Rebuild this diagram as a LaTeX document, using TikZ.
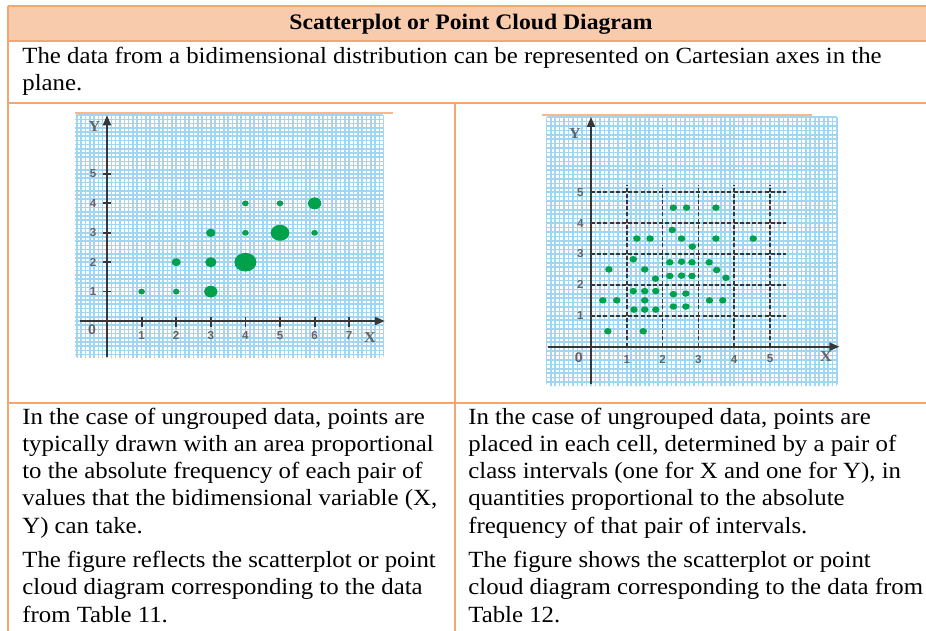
\documentclass[tikz,border=0pt]{standalone}
\usepackage{fontspec}
\setmainfont[FakeStretch=1.07]{Liberation Serif}
\newfontfamily\labelfont{Liberation Sans}
\usepackage{xcolor}
\usepackage{tikz}
\usetikzlibrary{shapes.geometric}
\usetikzlibrary{arrows.meta}
\usetikzlibrary{positioning}
\definecolor{tabline}{RGB}{244,166,114}
\definecolor{tabhead}{RGB}{248,203,173}
\definecolor{gridblue}{RGB}{160,214,242}
\definecolor{dotgreen}{RGB}{0,161,75}
\definecolor{axisgray}{RGB}{55,55,55}
\definecolor{labgray}{RGB}{100,100,100}
\newcommand\pxu{0.02cm}
\tikzset{
    cell/.style = {anchor=base west, align=left, inner sep=0pt, font=\fontsize{13.2}{15.37}\selectfont},
    headtext/.style = {anchor=base, inner sep=0pt, font=\fontsize{12.6}{15.37}\selectfont\bfseries},
    tabrule/.style = {tabline, line width=2*\pxu},
    imgtop/.style = {tabline!80, line width=2*\pxu},
    gridline/.style = {gridblue, line width=1.6*\pxu},
    axisline/.style = {axisgray, line width=2*\pxu, -{Triangle[length=10*\pxu, width=8*\pxu]}},
    tickline/.style = {axisgray, line width=1.8*\pxu},
    classline/.style = {axisgray, line width=1.6*\pxu, dash pattern=on 4*\pxu off 2.2*\pxu},
    ticklab/.style = {inner sep=0pt, text=labgray, font=\labelfont\bfseries\fontsize{6.6}{7}\selectfont},
    axislab/.style = {inner sep=0pt, text=labgray, font=\bfseries\fontsize{8.6}{9}\selectfont},
    ldot/.style = {ellipse, fill=dotgreen, inner sep=0pt},
    rdot/.style = {ellipse, fill=dotgreen, inner sep=0pt, minimum width=7.5*\pxu, minimum height=6.5*\pxu}
}
\begin{document}
\begin{tikzpicture}[x=\pxu, y=-\pxu]
\useasboundingbox (0,0) rectangle (926,631);
% table frame
\coordinate (tl) at (8,6);
\coordinate (tr) at (926,6);
\coordinate (hl) at (8,41);
\coordinate (hr) at (926,41);
\coordinate (il) at (8,103);
\coordinate (ir) at (926,103);
\coordinate (pl) at (8,403);
\coordinate (pr) at (926,403);
\coordinate (bl) at (8,631);
\coordinate (mt) at (455,103);
\coordinate (mb) at (455,631);
\fill[tabhead] (tl) rectangle (hr);
%
\node[headtext] at (471,30) (title) {Scatterplot or Point Cloud Diagram};
\node[cell] at (22,91) (intro) {The data from a bidimensional distribution can be represented on Cartesian axes in the\\plane.};
\node[cell] at (22,533) (lefta) {In the case of ungrouped data, points are\\typically drawn with an area proportional\\to the absolute frequency of each pair of\\values that the bidimensional variable (X,\\Y) can take.};
\node[cell] at (22,622) (leftb) {The figure reflects the scatterplot or point\\cloud diagram corresponding to the data\\from Table 11.};
\node[cell] at (468,533) (righta) {In the case of ungrouped data, points are\\placed in each cell, determined by a pair of\\class intervals (one for X and one for Y), in\\quantities proportional to the absolute\\frequency of that pair of intervals.};
\node[cell] at (468,622) (rightb) {The figure shows the scatterplot or point\\cloud diagram corresponding to the data from\\Table 12.};
%
% left picture: grid paper
\begin{scope}
\clip[rounded corners=3*\pxu] (75,114) rectangle (384,358);
\fill[white] (75,114) rectangle (384,358);
\foreach \k in {-8,...,65} \draw[gridline] ({107+\k*4.325},114) -- ({107+\k*4.325},358);
\foreach \k in {-50,...,9} \draw[gridline] (75,{321+\k*4.2}) -- (384,{321+\k*4.2});
\end{scope}
\coordinate (lta) at (75,113);
\coordinate (ltb) at (393,113);
\draw[imgtop] (lta) -- (ltb);
%
\begin{scope}[shift={(107,321)}, xscale=34.6, yscale=-29.4]
\coordinate (lyb) at (0,-1.22);
\coordinate (lyt) at (0,7.0);
\coordinate (lxl) at (-0.78,0);
\coordinate (lxr) at (8.03,0);
\draw[axisline] (lyb) -- (lyt);
\draw[axisline] (lxl) -- (lxr);
\foreach \x in {1,...,7} {
  \draw[tickline] (\x,-0.2) -- (\x,0.14);
  \node[ticklab] at (\x,-0.5) (lx\x) {\x};
}
\foreach \y in {1,...,5} {
  \draw[tickline] (-0.13,\y) -- (0.13,\y);
  \node[ticklab] at (-0.4,\y) (ly\y) {\y};
}
\node[ticklab, font=\labelfont\bfseries\fontsize{8}{9}\selectfont] at (-0.43,-0.31) (lo) {0};
\node[axislab] at (-0.36,6.6) (lY) {Y};
\node[axislab] at (7.6,-0.58) (lX) {X};
% points, size after frequency
\foreach \x/\y/\w/\h [count=\i] in {1/1/6.7/5.8, 2/1/6.7/5.8, 3/1/13.3/11.7, 2/2/9/8, 3/2/11.3/10,
    4/2/22/18.7, 3/3/9.3/8.3, 4/3/6.7/5.8, 5/3/18.7/16, 6/3/6.7/5.8, 4/4/6.7/5.8, 5/4/6.7/5.8, 6/4/13.3/12}
  \node[ldot, minimum width=\w*\pxu, minimum height=\h*\pxu] at (\x,\y) (l\i) {};
\end{scope}
%
% right picture: grid paper
\begin{scope}
\clip[rounded corners=3*\pxu] (546,116) rectangle (838,386);
\fill[white] (546,116) rectangle (838,386);
\foreach \k in {-11,...,56} \draw[gridline] ({591+\k*4.475},116) -- ({591+\k*4.475},386);
\foreach \k in {-53,...,9} \draw[gridline] (546,{346.7+\k*4.414}) -- (838,{346.7+\k*4.414});
\end{scope}
\coordinate (rta) at (542,115);
\coordinate (rtb) at (812,115);
\draw[imgtop] (rta) -- (rtb);
%
\begin{scope}[shift={(591,346.7)}, xscale=35.8, yscale=-30.9]
\foreach \k in {1,...,5} {
  \draw[classline] (0,\k) -- (5.45,\k);
  \draw[classline] (\k,0) -- (\k,5.22);
}
\coordinate (ryb) at (0,-1.2);
\coordinate (ryt) at (0,7.45);
\coordinate (rxl) at (-1.2,0);
\coordinate (rxr) at (6.95,0);
\draw[axisline] (ryb) -- (ryt);
\draw[axisline] (rxl) -- (rxr);
\foreach \x in {1,...,5} \node[ticklab] at (\x,-0.4) (rx\x) {\x};
\foreach \y in {1,...,5} \node[ticklab] at (-0.3,\y) (ry\y) {\y};
\node[ticklab, font=\labelfont\bfseries\fontsize{8}{9}\selectfont] at (-0.34,-0.37) (ro) {0};
\node[axislab] at (-0.45,6.9) (rY) {Y};
\node[axislab] at (6.56,-0.33) (rX) {X};
% points, several in each class cell
\foreach \x/\y [count=\i] in {0.5/2.5, 0.33/1.5, 0.72/1.5, 0.47/0.5, 1.28/3.5, 1.65/3.5, 1.18/2.83, 1.5/2.5,
    1.8/2.2, 1.18/1.8, 1.5/1.8, 1.81/1.8, 1.5/1.5, 1.2/1.2, 1.5/1.2, 1.81/1.2, 1.46/0.5,
    2.3/4.5, 2.67/4.5, 3.49/4.5, 2.27/3.78, 2.53/3.5, 2.83/3.24, 3.49/3.5, 4.53/3.5,
    2.2/2.73, 2.53/2.75, 2.82/2.73, 3.3/2.73, 3.51/2.48, 3.77/2.23, 2.2/2.29, 2.53/2.3, 2.82/2.29,
    2.3/1.7, 2.65/1.72, 2.3/1.3, 2.65/1.3, 3.31/1.5, 3.68/1.5}
  \node[rdot] at (\x,\y) (r\i) {};
\end{scope}
%
% table rules on top
\draw[tabrule] (tl) -- (tr);
\draw[tabrule] (hl) -- (hr);
\draw[tabrule] (il) -- (ir);
\draw[tabrule] (pl) -- (pr);
\draw[tabrule] (tl) -- (bl);
\draw[tabrule] (mt) -- (mb);
\end{tikzpicture}
\end{document}
